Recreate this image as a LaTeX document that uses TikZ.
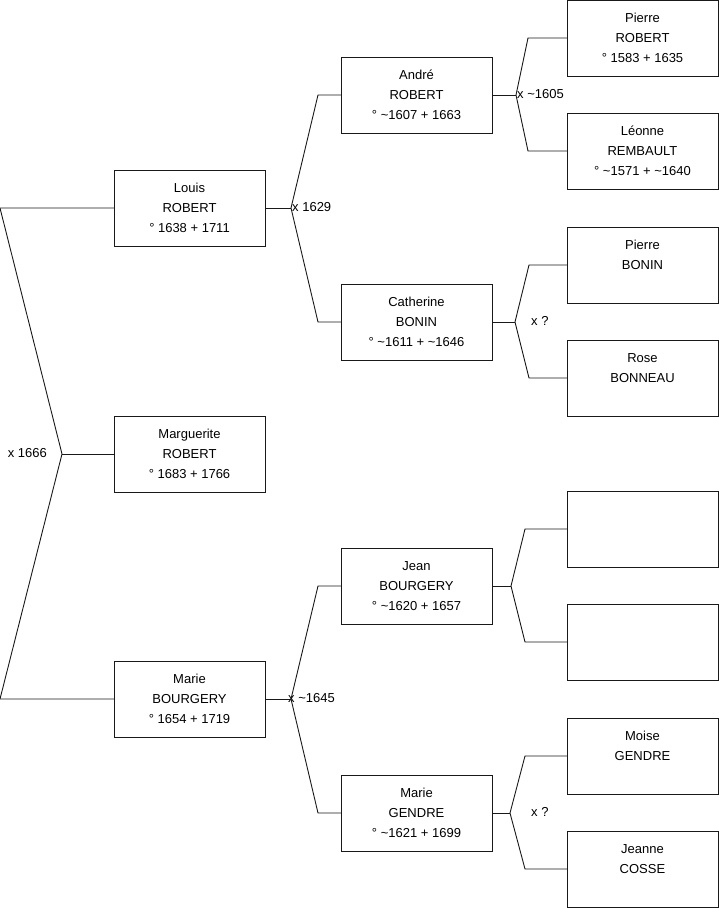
\documentclass[tikz,border=0pt]{standalone}
\usepackage{fontspec}
\setmainfont{Liberation Sans}
\usetikzlibrary{positioning}

\tikzset{
  person/.style={draw=black!90, line width=0.9pt, minimum width=151pt,
    minimum height=76pt, inner sep=0pt, outer sep=0pt, align=center,
    font=\fontsize{13}{20}\selectfont},
  link/.style={draw=black!90, line width=0.9pt},
  union/.style={font=\fontsize{13}{15}\selectfont, inner sep=1pt}
}

\begin{document}
\begin{tikzpicture}[x=1pt, y=1pt]
\useasboundingbox (0,0) rectangle (719,-908);

% generation 1
\node[person] (louis) at (189.5,-208) {Louis\\ROBERT\\° 1638 + 1711};
\node[person, below=170pt of louis] (marguerite) {Marguerite\\ROBERT\\° 1683 + 1766};
\node[person, below=169pt of marguerite] (marieB) {Marie\\BOURGERY\\° 1654 + 1719};

% generation 2
\node[person, right=76pt of louis, yshift=113pt] (andre) {André\\ROBERT\\° \textasciitilde1607 + 1663};
\node[person, below=151pt of andre] (catherine) {Catherine\\BONIN\\° \textasciitilde1611 + \textasciitilde1646};
\node[person, right=76pt of marieB, yshift=113pt] (jean) {Jean\\BOURGERY\\° \textasciitilde1620 + 1657};
\node[person, below=151pt of jean] (marieG) {Marie\\GENDRE\\° \textasciitilde1621 + 1699};

% generation 3
\node[person, right=75pt of andre, yshift=57pt] (pierreR) {Pierre\\ROBERT\\° 1583 + 1635};
\node[person, below=37pt of pierreR] (leonne) {Léonne\\REMBAULT\\° \textasciitilde1571 + \textasciitilde1640};
\node[person, right=75pt of catherine, yshift=57pt] (pierreB) {Pierre\\BONIN\\\mbox{}};
\node[person, below=37pt of pierreB] (rose) {Rose\\BONNEAU\\\mbox{}};
\node[person, right=75pt of jean, yshift=57pt] (unknownA) {};
\node[person, below=37pt of unknownA] (unknownB) {};
\node[person, right=75pt of marieG, yshift=57pt] (moise) {Moise\\GENDRE\\\mbox{}};
\node[person, below=37pt of moise] (jeanne) {Jeanne\\COSSE\\\mbox{}};

% unions
\coordinate[left=52pt of marguerite] (u1666);
\coordinate[right=26pt of louis] (u1629);
\coordinate[right=24pt of andre] (u1605);
\coordinate[right=23pt of catherine] (uBonin);
\coordinate[right=26pt of marieB] (u1645);
\coordinate[right=19pt of jean] (uJean);
\coordinate[right=18pt of marieG] (uGendre);

\node[union, left=14pt of u1666, yshift=1pt] (l1666) {x 1666};
\node[union, right=0pt of u1629, yshift=1pt] (l1629) {x 1629};
\node[union, right=0pt of u1605, yshift=1pt] (l1605) {x \textasciitilde1605};
\node[union, right=-4pt of u1645, yshift=1pt] (l1645) {x \textasciitilde1645};
\node[union, right=15pt of uBonin, yshift=1pt] (lBonin) {x ?};
\node[union, right=20pt of uGendre, yshift=1pt] (lGendre) {x ?};

% links
\draw[link] (marguerite.west) -- (u1666);
\draw[link] (louis.west) -- ([xshift=-114pt]louis.west) -- (u1666)
  -- ([xshift=-114pt]marieB.west) -- (marieB.west);

\draw[link] (louis.east) -- (u1629);
\draw[link] (andre.west) -- ([xshift=-23pt]andre.west) -- (u1629)
  -- ([xshift=-23pt]catherine.west) -- (catherine.west);
\draw[link] (marieB.east) -- (u1645);
\draw[link] (jean.west) -- ([xshift=-23pt]jean.west) -- (u1645)
  -- ([xshift=-23pt]marieG.west) -- (marieG.west);

\draw[link] (andre.east) -- (u1605);
\draw[link] (pierreR.west) -- ([xshift=-39pt]pierreR.west) -- (u1605)
  -- ([xshift=-39pt]leonne.west) -- (leonne.west);
\draw[link] (catherine.east) -- (uBonin);
\draw[link] (pierreB.west) -- ([xshift=-38pt]pierreB.west) -- (uBonin)
  -- ([xshift=-38pt]rose.west) -- (rose.west);
\draw[link] (jean.east) -- (uJean);
\draw[link] (unknownA.west) -- ([xshift=-42pt]unknownA.west) -- (uJean)
  -- ([xshift=-42pt]unknownB.west) -- (unknownB.west);
\draw[link] (marieG.east) -- (uGendre);
\draw[link] (moise.west) -- ([xshift=-42pt]moise.west) -- (uGendre)
  -- ([xshift=-42pt]jeanne.west) -- (jeanne.west);
\end{tikzpicture}
\end{document}
